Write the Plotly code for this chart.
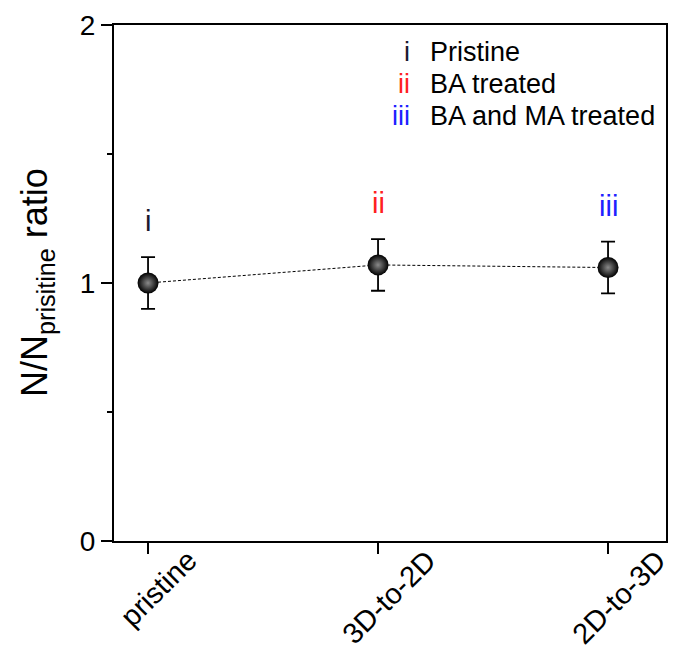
import plotly.graph_objects as go

categories = ["pristine", "3D-to-2D", "2D-to-3D"]
ratio = [1.00, 1.07, 1.06]
err = [0.10, 0.10, 0.10]
labels = ["i", "ii", "iii"]
label_colors = ["#1a1a2e", "#ff2020", "#2020ff"]
legend_items = ["Pristine", "BA treated", "BA and MA treated"]
y_ticks = [0, 1, 2]

FONT = "Liberation Sans, Arial, sans-serif"

fig = go.Figure()
fig.add_trace(go.Scatter(
    x=categories, y=ratio,
    mode="lines+markers",
    line=dict(color="black", width=1, dash="3px,2px"),
    marker=dict(symbol="circle", size=21, color="black",
                gradient=dict(type="radial", color="#8a8a8a"),
                line=dict(width=0)),
    error_y=dict(type="data", array=err, visible=True, color="black",
                 thickness=1.8, width=7),
    showlegend=False,
))

for c, v, lab, col in zip(categories, ratio, labels, label_colors):
    fig.add_annotation(x=c, y=v, text=lab, showarrow=False, yshift=62,
                       font=dict(family=FONT, size=29, color=col))

# x category labels, rotated about their centre
for c in categories:
    fig.add_annotation(x=c, y=0, text=c, showarrow=False, textangle=-45,
                       xanchor="center", yanchor="top", xshift=11, yshift=0,
                       font=dict(family=FONT, size=29, color="black"))

# legend-like text
for i, (lab, col, txt) in enumerate(zip(labels, label_colors, legend_items)):
    ypos = 52 + i * 32
    fig.add_annotation(xref="paper", yref="paper", x=(412 - 114) / 552,
                       y=1 - (ypos - 25) / 516, xanchor="right", yanchor="middle",
                       text=lab, showarrow=False,
                       font=dict(family=FONT, size=27, color=col))
    fig.add_annotation(xref="paper", yref="paper", x=(428 - 114) / 552,
                       y=1 - (ypos - 25) / 516, xanchor="left", yanchor="middle",
                       text=txt, showarrow=False,
                       font=dict(family=FONT, size=27, color="black"))

# y title
fig.add_annotation(xref="paper", yref="paper", x=(37 - 114) / 552,
                   y=0.5, xanchor="center", yanchor="middle",
                   textangle=-90, showarrow=False,
                   text="N/N<sub>prisitine</sub> ratio",
                   font=dict(family=FONT, size=36, color="black"))

fig.update_layout(
    width=677, height=653,
    margin=dict(l=114, r=11, t=25, b=112, autoexpand=False),
    paper_bgcolor="white", plot_bgcolor="white",
    font=dict(family=FONT, size=24, color="black"),
)
fig.update_xaxes(
    type="category", range=[-0.148, 2.252], automargin=False,
    showline=True, linewidth=2, linecolor="black", mirror=True,
    ticks="outside", ticklen=11, tickwidth=2, tickcolor="black",
    showticklabels=False,
    showgrid=False, zeroline=False,
)
fig.update_yaxes(
    range=[0, 2], tickvals=y_ticks, automargin=False,
    showline=True, linewidth=2, linecolor="black", mirror=True,
    ticks="outside", ticklen=11, tickwidth=2, tickcolor="black",
    minor=dict(dtick=0.5, ticks="outside", ticklen=5, tickwidth=2, tickcolor="black"),
    tickfont=dict(family=FONT, size=28),
    showgrid=False, zeroline=False,
)

fig.write_html("out.html")
